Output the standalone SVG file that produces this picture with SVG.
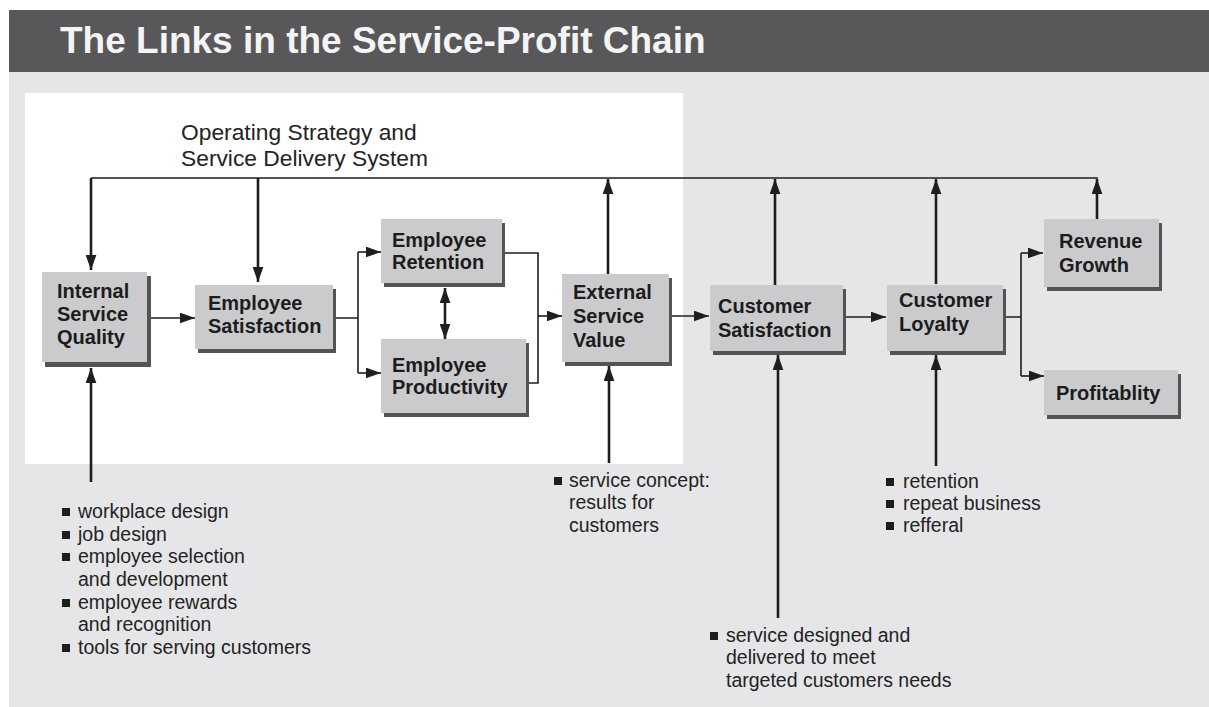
<svg xmlns="http://www.w3.org/2000/svg" width="1209" height="707" viewBox="0 0 1209 707">
  <defs>
    <style>
      .title { font-family: "Liberation Sans", Arial, sans-serif; font-weight: bold; font-size: 37px; fill: #f4f4f4; }
      .label { font-family: "Liberation Sans", Arial, sans-serif; font-weight: bold; font-size: 20px; fill: #1c1c1c; }
      .note { font-family: "Liberation Sans", Arial, sans-serif; font-size: 19.5px; fill: #232323; }
      .head { font-family: "Liberation Sans", Arial, sans-serif; font-size: 22.8px; fill: #232323; }
      .box { fill: #cbcbcd; }
      .shadow { fill: #545456; }
      .thin { stroke: #1e1e1e; stroke-width: 1.6; fill: none; }
      .thick { stroke: #1e1e1e; stroke-width: 2.6; fill: none; }
      .bullet { fill: #1e1e1e; }
    </style>
    <marker id="arrow" viewBox="0 0 14 10" refX="14" refY="5" markerWidth="15" markerHeight="11" markerUnits="userSpaceOnUse" orient="auto-start-reverse">
      <path d="M0,0 L14,5 L0,10 z" fill="#1e1e1e"/>
    </marker>
  </defs>

  <!-- page background -->
  <rect x="0" y="0" width="1209" height="707" fill="#ffffff"/>
  <rect x="9" y="72" width="1200" height="635" fill="#e6e6e8"/>
  <rect x="9" y="10" width="1200" height="62" fill="#58585a"/>
  <text class="title" x="60" y="53">The Links in the Service-Profit Chain</text>

  <!-- internal (employee) zone -->
  <rect x="25" y="93" width="658" height="371" fill="#ffffff"/>

  <text class="head" x="181" y="140">Operating Strategy and</text>
  <text class="head" x="181" y="166">Service Delivery System</text>

  <!-- connectors -->
  <g id="connectors">
    <!-- strategy feedback line -->
    <path class="thin" d="M91,178 H1098"/>
    <line class="thick" x1="91" y1="178" x2="91" y2="270" marker-end="url(#arrow)"/>
    <line class="thick" x1="258" y1="178" x2="258" y2="282" marker-end="url(#arrow)"/>
    <line class="thick" x1="608" y1="274" x2="608" y2="179" marker-end="url(#arrow)"/>
    <line class="thick" x1="775" y1="285" x2="775" y2="179" marker-end="url(#arrow)"/>
    <line class="thick" x1="936" y1="284" x2="936" y2="179" marker-end="url(#arrow)"/>
    <line class="thick" x1="1097" y1="219" x2="1097" y2="179" marker-end="url(#arrow)"/>

    <!-- chain links -->
    <line class="thin" x1="150" y1="318" x2="195" y2="318" marker-end="url(#arrow)"/>
    <path class="thin" d="M336,318 H358 M358,252 V373"/>
    <line class="thin" x1="358" y1="252" x2="381" y2="252" marker-end="url(#arrow)"/>
    <line class="thin" x1="358" y1="373" x2="381" y2="373" marker-end="url(#arrow)"/>
    <line class="thick" x1="445" y1="288" x2="445" y2="339" marker-start="url(#arrow)" marker-end="url(#arrow)"/>
    <path class="thin" d="M505,253 H538 V383 H529"/>
    <line class="thin" x1="538" y1="316" x2="562" y2="316" marker-end="url(#arrow)"/>
    <line class="thin" x1="671" y1="316" x2="709" y2="316" marker-end="url(#arrow)"/>
    <line class="thin" x1="846" y1="317" x2="886" y2="317" marker-end="url(#arrow)"/>
    <path class="thin" d="M1006,317 H1021 M1021,253 V376"/>
    <line class="thin" x1="1021" y1="253" x2="1043" y2="253" marker-end="url(#arrow)"/>
    <line class="thin" x1="1021" y1="376" x2="1044" y2="376" marker-end="url(#arrow)"/>

    <!-- drivers from below -->
    <line class="thick" x1="91" y1="482" x2="91" y2="368" marker-end="url(#arrow)"/>
    <line class="thick" x1="609" y1="463" x2="609" y2="366" marker-end="url(#arrow)"/>
    <line class="thick" x1="778" y1="618" x2="778" y2="355" marker-end="url(#arrow)"/>
    <line class="thick" x1="936" y1="466" x2="936" y2="355" marker-end="url(#arrow)"/>
  </g>

  <!-- nodes -->
  <g id="internal-service-quality">
    <rect class="shadow" x="45" y="276" width="106" height="91"/>
    <rect class="box" x="42" y="272" width="105" height="90"/>
    <text class="label" x="57" y="298">Internal</text>
    <text class="label" x="57" y="321">Service</text>
    <text class="label" x="57" y="344">Quality</text>
  </g>

  <g id="employee-satisfaction">
    <rect class="shadow" x="198" y="289" width="138" height="64"/>
    <rect class="box" x="195" y="285" width="138" height="64"/>
    <text class="label" x="208" y="310">Employee</text>
    <text class="label" x="208" y="333">Satisfaction</text>
  </g>

  <g id="employee-retention">
    <rect class="shadow" x="384" y="223" width="121" height="64"/>
    <rect class="box" x="381" y="219" width="121" height="64"/>
    <text class="label" x="392" y="247">Employee</text>
    <text class="label" x="392" y="269">Retention</text>
  </g>

  <g id="employee-productivity">
    <rect class="shadow" x="384" y="343" width="145" height="74"/>
    <rect class="box" x="381" y="339" width="145" height="74"/>
    <text class="label" x="392" y="372">Employee</text>
    <text class="label" x="392" y="394">Productivity</text>
  </g>

  <g id="external-service-value">
    <rect class="shadow" x="565" y="278" width="107" height="88"/>
    <rect class="box" x="562" y="274" width="107" height="88"/>
    <text class="label" x="573" y="299">External</text>
    <text class="label" x="573" y="323">Service</text>
    <text class="label" x="573" y="347">Value</text>
  </g>

  <g id="customer-satisfaction">
    <rect class="shadow" x="713" y="289" width="133" height="66"/>
    <rect class="box" x="710" y="285" width="133" height="66"/>
    <text class="label" x="718" y="313">Customer</text>
    <text class="label" x="718" y="337">Satisfaction</text>
  </g>

  <g id="customer-loyalty">
    <rect class="shadow" x="890" y="289" width="116" height="66"/>
    <rect class="box" x="887" y="285" width="116" height="66"/>
    <text class="label" x="899" y="307">Customer</text>
    <text class="label" x="899" y="331">Loyalty</text>
  </g>

  <g id="revenue-growth">
    <rect class="shadow" x="1047" y="223" width="115" height="68"/>
    <rect class="box" x="1044" y="219" width="115" height="68"/>
    <text class="label" x="1059" y="248">Revenue</text>
    <text class="label" x="1059" y="272">Growth</text>
  </g>

  <g id="profitability">
    <rect class="shadow" x="1047" y="374" width="134" height="45"/>
    <rect class="box" x="1044" y="370" width="134" height="45"/>
    <text class="label" x="1056" y="400">Profitablity</text>
  </g>

  <!-- driver notes -->
  <g id="internal-quality-drivers">
    <rect class="bullet" x="62" y="508" width="8" height="8"/>
    <text class="note" x="78" y="518">workplace design</text>
    <rect class="bullet" x="62" y="531" width="8" height="8"/>
    <text class="note" x="78" y="541">job design</text>
    <rect class="bullet" x="62" y="553" width="8" height="8"/>
    <text class="note" x="78" y="563">employee selection</text>
    <text class="note" x="78" y="586">and development</text>
    <rect class="bullet" x="62" y="599" width="8" height="8"/>
    <text class="note" x="78" y="609">employee rewards</text>
    <text class="note" x="78" y="631">and recognition</text>
    <rect class="bullet" x="62" y="644" width="8" height="8"/>
    <text class="note" x="78" y="654">tools for serving customers</text>
  </g>

  <g id="service-concept">
    <rect class="bullet" x="554" y="477" width="8" height="8"/>
    <text class="note" x="569" y="487">service concept:</text>
    <text class="note" x="569" y="509">results for</text>
    <text class="note" x="569" y="532">customers</text>
  </g>

  <g id="service-design">
    <rect class="bullet" x="710" y="632" width="8" height="8"/>
    <text class="note" x="726" y="642">service designed and</text>
    <text class="note" x="726" y="664">delivered to meet</text>
    <text class="note" x="726" y="687">targeted customers needs</text>
  </g>

  <g id="loyalty-drivers">
    <rect class="bullet" x="886" y="478" width="8" height="8"/>
    <text class="note" x="903" y="488">retention</text>
    <rect class="bullet" x="886" y="500" width="8" height="8"/>
    <text class="note" x="903" y="510">repeat business</text>
    <rect class="bullet" x="886" y="522" width="8" height="8"/>
    <text class="note" x="903" y="532">refferal</text>
  </g>
</svg>
